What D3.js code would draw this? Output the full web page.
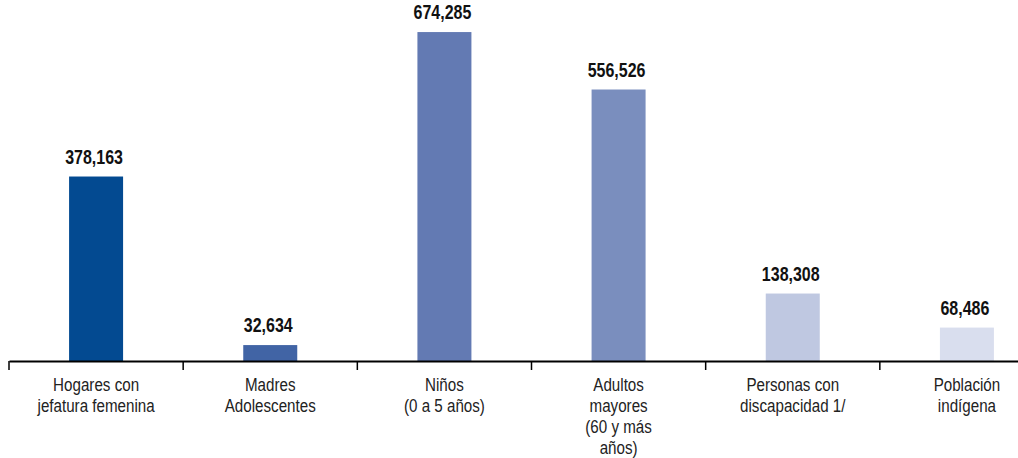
<!DOCTYPE html>
<html><head><meta charset="utf-8">
<script src="https://cdn.jsdelivr.net/npm/d3@7"></script>
<style>body{margin:0;background:#fff}svg{display:block}</style>
</head><body>
<script>
const categories = ["Hogares con|jefatura femenina","Madres|Adolescentes","Niños|(0 a 5 años)","Adultos|mayores|(60 y más|años)","Personas con|discapacidad 1/","Población|indígena"];
const values = [378163, 32634, 674285, 556526, 138308, 68486];
const colors = ["#034a91","#4164a5","#637ab3","#7a8ebe","#bfc8e1","#d9deee"];

const W = 1018, H = 458;
const svg = d3.select("body").append("svg").attr("width", W).attr("height", H);
const font = "'Liberation Sans', Arial, sans-serif";
const narrow = 0.82;

const x = d3.scaleBand().domain(categories).range([9, 1054]).paddingInner(0);
const y = d3.scaleLinear().domain([0, 740000]).range([361, 0]);
const barW = 54;
const cx = c => x(c) + x.bandwidth()/2;

svg.selectAll("rect.bar").data(values).join("rect")
  .attr("class","bar")
  .attr("x", (d,i) => cx(categories[i]) - barW/2)
  .attr("width", barW)
  .attr("y", d => y(d))
  .attr("height", d => y(0) - y(d))
  .attr("fill", (d,i) => colors[i]);

svg.selectAll("text.val").data(values).join("text")
  .attr("class","val")
  .attr("transform", (d,i) => `translate(${cx(categories[i]) - 2},${y(d) - 13}) scale(${narrow},1)`)
  .attr("text-anchor","middle")
  .attr("font-family", font)
  .attr("font-weight","bold")
  .attr("font-size", 19.5)
  .attr("fill","#111")
  .text(d => d3.format(",")(d));

const axis = d3.axisBottom(x).tickSize(9).tickSizeOuter(0).tickFormat("");
const g = svg.append("g").attr("transform", `translate(0,${y(0)})`).call(axis);
g.select(".domain").attr("stroke","#000").attr("stroke-width",2);
g.selectAll(".tick").remove();
const bounds = categories.map(c => x(c));
g.selectAll("line.bt").data(bounds).join("line")
  .attr("class","bt")
  .attr("x1", d => d).attr("x2", d => d)
  .attr("y1", 0).attr("y2", 9)
  .attr("stroke","#000").attr("stroke-width",1.5);

const lab = svg.selectAll("text.cat").data(categories).join("text")
  .attr("class","cat")
  .attr("transform", c => `translate(${cx(c)},0) scale(${narrow},1)`)
  .attr("text-anchor","middle")
  .attr("font-family", font)
  .attr("font-size", 18.5)
  .attr("fill","#222");
lab.each(function(c){
  const t = d3.select(this);
  c.split("|").forEach((line, k) => {
    t.append("tspan").attr("x", 0).attr("y", 391 + k*21).text(line);
  });
});
</script>
</body></html>
